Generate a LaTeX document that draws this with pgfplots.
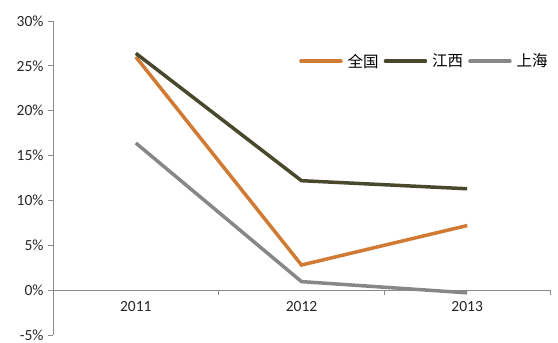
\documentclass[border=0pt]{standalone}
\usepackage{pgfplots}
\pgfplotsset{compat=1.18}
\usepackage{fontspec}
\setmainfont{Carlito}
\newfontfamily\cjk{Noto Sans CJK SC}
\definecolor{corange}{RGB}{208,122,52}
\definecolor{colive}{RGB}{72,72,44}
\definecolor{cgrey}{RGB}{135,135,135}
\definecolor{caxis}{RGB}{140,140,140}
\begin{document}
\begin{tikzpicture}
\path[use as bounding box] (-53bp,-8bp) rectangle (505bp,335bp);
\begin{axis}[
  at={(0,0)}, anchor=south west,
  scale only axis, width=497bp, height=314bp,
  xmin=0, xmax=3, ymin=-5, ymax=30,
  axis y line=left, axis x line=middle,
  axis line style={caxis, line width=0.8bp, -},
  xtick={0.5,1.5,2.5}, xticklabels={2011,2012,2013},
  minor xtick={1,2,3},
  major x tick style={draw=none},
  minor x tick style={caxis, line width=0.8bp},
  minor tick length=5bp,
  ytick={-5,0,5,10,15,20,25,30},
  yticklabels={-5\%,0\%,5\%,10\%,15\%,20\%,25\%,30\%},
  y tick style={caxis, line width=0.8bp},
  major tick length=5bp,
  tick align=outside,
  xticklabel style={yshift=-3bp},
  yticklabel style={xshift=-1bp},
  tick label style={font=\fontsize{15.5bp}{18bp}\selectfont, text=black!85},
  legend style={at={(rel axis cs:0.495,0.872)}, anchor=west, draw=none, fill=none,
     inner sep=0pt, font=\fontsize{15.5bp}{18bp}\selectfont\cjk, column sep=4bp,
     nodes={inner xsep=1bp, inner ysep=1bp}},
  legend columns=3,
  legend image code/.code={\draw[#1, line width=3.5bp, line cap=round] (0bp,0bp) -- (40bp,0bp);},
  clip=false,
]
\addplot[corange, line width=3.5bp] coordinates {(0.5,26.0) (1.5,2.8) (2.5,7.2)};
\addplot[colive, line width=3.5bp] coordinates {(0.5,26.4) (1.5,12.2) (2.5,11.3)};
\addplot[cgrey, line width=3.5bp] coordinates {(0.5,16.4) (1.5,0.95) (2.5,-0.3)};
\legend{全国,江西,上海}
\end{axis}
\end{tikzpicture}
\end{document}
